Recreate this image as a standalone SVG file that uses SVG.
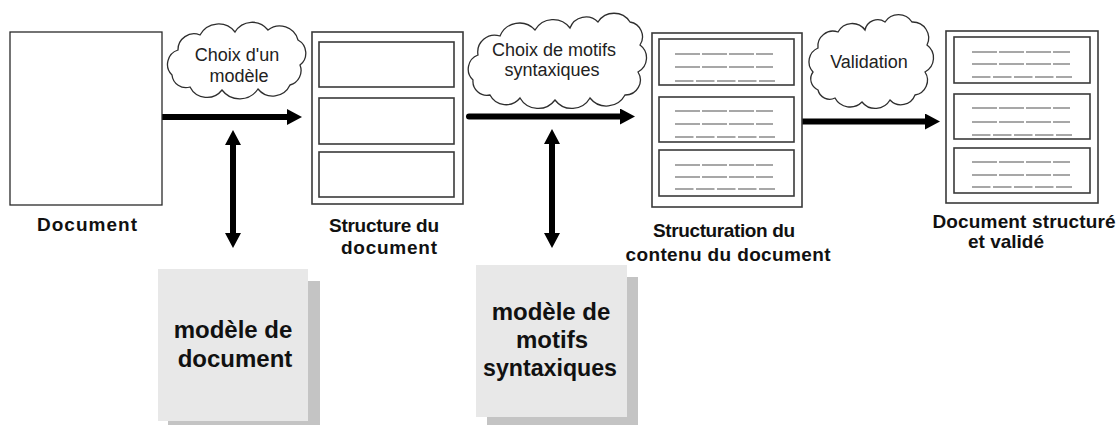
<svg xmlns="http://www.w3.org/2000/svg" width="1117" height="425" viewBox="0 0 1117 425">
<defs>
<marker id="ah" markerUnits="userSpaceOnUse" markerWidth="15" markerHeight="16" refX="1" refY="8" orient="auto-start-reverse" viewBox="0 0 15 16">
<path d="M0,0 L15,8 L0,16 Z" fill="#000"/>
</marker>
<style>
.frame{fill:#fff;stroke:#3a3a3a;stroke-width:1.6}
.doc{fill:#fff;stroke:#2a2a2a;stroke-width:1.3}
.sec{fill:#fff;stroke:#3a3a3a;stroke-width:1.6}
.d4{stroke:#8a8a8a;stroke-width:1.5;stroke-dasharray:25 2}
.d5{stroke:#8a8a8a;stroke-width:1.5;stroke-dasharray:18.5 2.5}
.cloud{fill:#fff;stroke:#2e2e2e;stroke-width:1.3}
.ct{font-family:"Liberation Sans",Arial,sans-serif;font-size:18px;fill:#222;text-anchor:middle}
.lbl{font-family:"Liberation Sans",Arial,sans-serif;font-size:19px;font-weight:bold;fill:#111;text-anchor:middle}
.mt{font-family:"Liberation Sans",Arial,sans-serif;font-size:24px;font-weight:bold;fill:#111;text-anchor:middle}
.conn{stroke:#000;stroke-width:6;fill:none}
.shadow{fill:#c4c4c4}
.model{fill:#e8e8e8}
</style>
</defs>
<rect width="1117" height="425" fill="#fff"/>

<g id="connectors">
<line class="conn" x1="162" y1="117" x2="288" y2="117" marker-end="url(#ah)"/>
<line class="conn" x1="469" y1="116.5" x2="621" y2="116.5" stroke-linecap="round" marker-end="url(#ah)"/>
<line class="conn" x1="802" y1="121.5" x2="926" y2="121.5" marker-end="url(#ah)"/>
<line class="conn" x1="233" y1="144" x2="233" y2="234" marker-start="url(#ah)" marker-end="url(#ah)"/>
<line class="conn" x1="552" y1="143" x2="552" y2="234" marker-start="url(#ah)" marker-end="url(#ah)"/>
</g>

<g id="cloud-choix-modele">
<path class="cloud" d="M172,75 A15,15 0 0 1 178,50 A16,16 0 0 1 200,35 A21,21 0 0 1 235,32 A20,20 0 0 1 268,30 A19,19 0 0 1 298,40 A15,15 0 0 1 300,65 A15,15 0 0 1 290,85 A19,19 0 0 1 258,89 A22,22 0 0 1 222,90 A19,19 0 0 1 190,87 A14,14 0 0 1 172,75 Z"/>
<text class="ct" x="237" y="61">Choix d'un</text>
<text class="ct" x="239" y="82">modèle</text>
</g>

<g id="cloud-choix-motifs">
<path class="cloud" d="M473,80 A15,15 0 0 1 478,55 A17,17 0 0 1 500,36 A21,21 0 0 1 535,30 A21,21 0 0 1 570,28 A17,17 0 0 1 598,22 A19,19 0 0 1 630,22 A15,15 0 0 1 640,45 A16,16 0 0 1 638,72 A15,15 0 0 1 625,95 A21,21 0 0 1 590,98 A21,21 0 0 1 555,100 A21,21 0 0 1 520,98 A18,18 0 0 1 490,95 A14,14 0 0 1 473,80 Z"/>
<text class="ct" x="554" y="56">Choix de motifs</text>
<text class="ct" x="552" y="76">syntaxiques</text>
</g>

<g id="cloud-validation">
<path class="cloud" d="M813,72 A15,15 0 0 1 818,48 A15,15 0 0 1 838,32 A16,16 0 0 1 865,30 A13,13 0 0 1 885,22 A16,16 0 0 1 912,22 A16,16 0 0 1 927,45 A16,16 0 0 1 925,72 A15,15 0 0 1 915,95 A15,15 0 0 1 890,100 A17,17 0 0 1 862,102 A17,17 0 0 1 835,98 A12,12 0 0 1 818,90 A12,12 0 0 1 813,72 Z"/>
<text class="ct" x="869" y="68">Validation</text>
</g>

<g id="document">
<rect class="doc" x="10" y="32" width="152" height="173"/>
<text class="lbl" x="87" y="231" textLength="100" lengthAdjust="spacing">Document</text>
</g>

<g id="structure-document">
<rect class="frame" x="312" y="32" width="151" height="172"/>
<rect class="sec" x="319" y="42" width="135" height="45"/>
<rect class="sec" x="319" y="98" width="135" height="46"/>
<rect class="sec" x="319" y="152" width="135" height="45"/>
<text class="lbl" x="384" y="232" textLength="110" lengthAdjust="spacing">Structure du</text>
<text class="lbl" x="389" y="254" textLength="96" lengthAdjust="spacing">document</text>
</g>

<g id="structuration-contenu">
<rect class="frame" x="652" y="33" width="150" height="174"/>
<rect class="sec" x="659" y="39" width="135" height="46"/>
<rect class="sec" x="659" y="97" width="135" height="45"/>
<rect class="sec" x="659" y="150" width="135" height="46"/>
<line class="d4" x1="675" y1="54" x2="773" y2="54"/>
<line class="d4" x1="675" y1="67" x2="773" y2="67"/>
<line class="d5" x1="675" y1="81" x2="775" y2="81"/>
<line class="d4" x1="675" y1="111" x2="773" y2="111"/>
<line class="d4" x1="675" y1="124" x2="773" y2="124"/>
<line class="d5" x1="675" y1="137" x2="775" y2="137"/>
<line class="d4" x1="675" y1="165" x2="773" y2="165"/>
<line class="d4" x1="675" y1="177" x2="773" y2="177"/>
<line class="d5" x1="675" y1="189" x2="775" y2="189"/>
<text class="lbl" x="724" y="237" textLength="142" lengthAdjust="spacing">Structuration du</text>
<text class="lbl" x="728" y="261" textLength="205" lengthAdjust="spacing">contenu du document</text>
</g>

<g id="document-structure-valide">
<rect class="frame" x="946" y="31" width="152" height="172"/>
<rect class="sec" x="954" y="37" width="136" height="46"/>
<rect class="sec" x="954" y="94" width="136" height="45"/>
<rect class="sec" x="954" y="148" width="136" height="45"/>
<line class="d4" x1="972" y1="52" x2="1070" y2="52"/>
<line class="d4" x1="972" y1="64" x2="1070" y2="64"/>
<line class="d5" x1="972" y1="77" x2="1072" y2="77"/>
<line class="d4" x1="972" y1="108" x2="1070" y2="108"/>
<line class="d4" x1="972" y1="122" x2="1070" y2="122"/>
<line class="d5" x1="972" y1="135" x2="1072" y2="135"/>
<line class="d4" x1="972" y1="162" x2="1070" y2="162"/>
<line class="d4" x1="972" y1="175" x2="1070" y2="175"/>
<line class="d5" x1="972" y1="187" x2="1072" y2="187"/>
<text class="lbl" x="1024" y="228" textLength="183" lengthAdjust="spacing">Document structuré</text>
<text class="lbl" x="1006" y="248">et validé</text>
</g>

<g id="modele-document">
<rect class="shadow" x="168" y="281" width="152" height="150"/>
<rect class="model" x="158" y="269" width="150" height="152"/>
<text class="mt" x="233" y="338">modèle de</text>
<text class="mt" x="235" y="367">document</text>
</g>

<g id="modele-motifs">
<rect class="shadow" x="487" y="277" width="151" height="150"/>
<rect class="model" x="476" y="265" width="151" height="152"/>
<text class="mt" x="551" y="320">modèle de</text>
<text class="mt" x="552" y="348">motifs</text>
<text class="mt" x="550" y="376" textLength="134" lengthAdjust="spacingAndGlyphs">syntaxiques</text>
</g>
</svg>
